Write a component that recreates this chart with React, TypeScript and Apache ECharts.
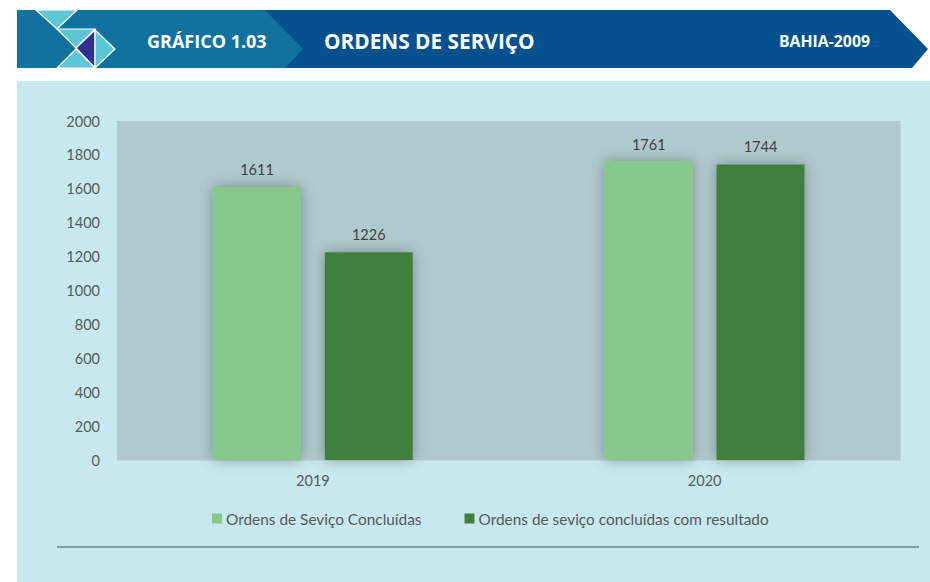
import { useEffect, useRef } from "react";
import * as echarts from "echarts";

const categories = ["2019", "2020"];
const concluidas = [1611, 1761];
const comResultado = [1226, 1744];
const seriesNames = [
  "Ordens de Seviço Concluídas",
  "Ordens de seviço concluídas com resultado",
];
const yMin = 0;
const yMax = 2000;
const yInterval = 200;

const headerLabel = "GRÁFICO 1.03";
const headerTitle = "ORDENS DE SERVIÇO";
const headerRight = "BAHIA-2009";

const LIGHT = "#85c88a";
const DARK = "#417f3d";
const CYAN = "#5ec7d6";
const PURPLE = "#2e3192";
const FONT = "Lato, 'Liberation Sans', sans-serif";
const HFONT = "'Open Sans', 'Noto Sans', sans-serif";

export default function App() {
  const ref = useRef<HTMLDivElement>(null);
  useEffect(() => {
    if (!ref.current) return;
    const chart = echarts.init(ref.current, undefined, { renderer: "svg" });
    const tri = (pts: number[][], fill: string) => ({
      type: "polygon",
      shape: { points: pts },
      style: { fill, stroke: "#ffffff", lineWidth: 1.2 },
    });
    chart.setOption({
      animation: false,
      backgroundColor: "#ffffff",
      graphic: [
        {
          type: "rect",
          shape: { x: 17, y: 81, width: 913, height: 501 },
          style: { fill: "#c8e8ef" },
        },
        {
          type: "rect",
          shape: { x: 117, y: 121, width: 783.5, height: 339 },
          style: { fill: "#b0c9ce" },
        },
        {
          type: "line",
          shape: { x1: 57, y1: 547, x2: 919, y2: 547 },
          style: { stroke: "#7f9c9d", lineWidth: 2 },
        },
        {
          type: "polygon",
          shape: { points: [[17, 10], [890, 10], [928, 49], [912, 68], [17, 68]] },
          style: { fill: "#03528f" },
        },
        {
          type: "polygon",
          shape: { points: [[17, 10], [265, 10], [303, 49], [285, 68], [17, 68]] },
          style: { fill: "#12729f" },
        },
        tri([[36, 10], [77, 10], [57, 29]], CYAN),
        tri([[57, 29], [95, 29], [76, 48]], CYAN),
        tri([[95, 30], [76, 48], [95, 68]], PURPLE),
        tri([[95, 30], [115, 49], [95, 68]], CYAN),
        tri([[76, 49], [57, 68], [95, 68]], CYAN),
        {
          type: "text",
          x: 147,
          y: 41,
          style: {
            text: headerLabel,
            fill: "#ffffff",
            font: `bold 18px ${HFONT}`,
            verticalAlign: "middle",
          },
        },
        {
          type: "text",
          x: 324,
          y: 41,
          style: {
            text: headerTitle,
            fill: "#ffffff",
            font: `bold 20.8px ${HFONT}`,
            verticalAlign: "middle",
          },
        },
        {
          type: "text",
          x: 779,
          y: 41,
          style: {
            text: headerRight,
            fill: "#ffffff",
            font: `bold 15.8px ${HFONT}`,
            verticalAlign: "middle",
          },
        },
      ],
      grid: { left: 117, right: 29.5, top: 121, bottom: 122 },
      xAxis: {
        type: "category",
        data: categories,
        axisLine: { show: true, lineStyle: { color: "#c3d6d9", width: 1 } },
        axisTick: { show: false },
        axisLabel: { color: "#595959", fontSize: 14.5, fontFamily: FONT, margin: 13 },
      },
      yAxis: {
        type: "value",
        min: yMin,
        max: yMax,
        interval: yInterval,
        splitLine: { show: false },
        axisLine: { show: false },
        axisTick: { show: false },
        axisLabel: {
          color: "#595959",
          fontSize: 14.5,
          fontFamily: FONT,
          margin: 17,
          formatter: (v: number) => String(v),
        },
      },
      legend: {
        left: 212,
        top: 511,
        padding: 0,
        itemWidth: 10,
        itemHeight: 10,
        itemGap: 43,
        icon: "rect",
        textStyle: { color: "#595959", fontSize: 15.4, fontFamily: FONT, padding: [0, 0, 0, -1] },
        data: seriesNames,
      },
      series: [
        {
          name: seriesNames[0],
          type: "bar",
          data: concluidas,
          barWidth: 88,
          barGap: "27%",
          itemStyle: {
            color: LIGHT,
            shadowBlur: 14,
            shadowColor: "rgba(0,0,0,0.32)",
          },
          label: {
            show: true,
            position: "top",
            distance: 10,
            color: "#404040",
            fontSize: 14.5,
            fontFamily: FONT,
          },
        },
        {
          name: seriesNames[1],
          type: "bar",
          data: comResultado,
          barWidth: 88,
          itemStyle: {
            color: DARK,
            shadowBlur: 14,
            shadowColor: "rgba(0,0,0,0.32)",
          },
          label: {
            show: true,
            position: "top",
            distance: 10,
            color: "#404040",
            fontSize: 14.5,
            fontFamily: FONT,
          },
        },
      ],
    });
    return () => chart.dispose();
  }, []);
  return (
    <div
      ref={ref}
      style={{ position: "absolute", left: 0, top: 0, width: 930, height: 582 }}
    />
  );
}
